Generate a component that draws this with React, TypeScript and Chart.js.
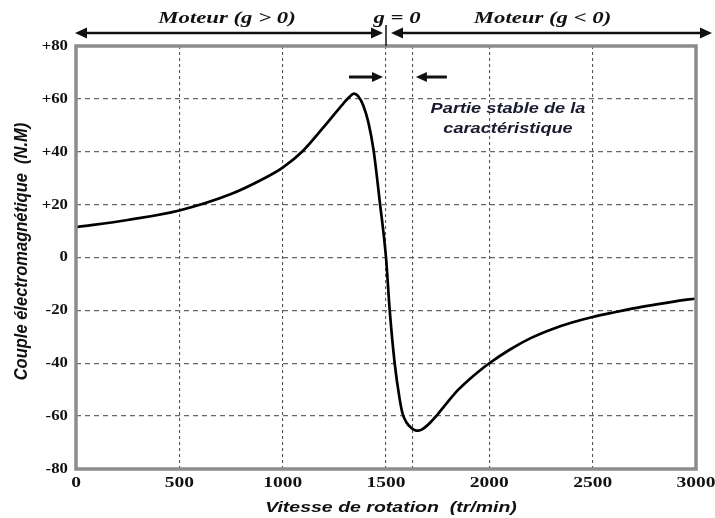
import React, { useEffect, useRef } from "react";
import { Chart, registerables } from "chart.js";

Chart.register(...registerables);

const speeds = [0, 250, 500, 750, 900, 1000, 1100, 1200, 1280, 1320, 1345, 1365, 1390, 1415, 1440, 1470, 1500, 1518, 1542, 1565, 1580, 1600, 1620, 1640, 1657, 1675, 1700, 1725, 1750, 1800, 1850, 1900, 1950, 2000, 2100, 2200, 2300, 2400, 2500, 2600, 2750, 2900, 3000];
const torque = [11.5, 14.2, 17.8, 24, 29.5, 34, 40.5, 49.5, 57, 60.5, 62, 61, 57.5, 51, 40.5, 21, 0, -20, -40, -53, -59, -62.5, -64.3, -65.3, -65.5, -65, -63.5, -61.5, -59.3, -54.5, -50, -46.3, -43, -40, -34.8, -30.5, -27.2, -24.6, -22.5, -20.8, -18.5, -16.6, -15.5];

const xTicks = [0, 500, 1000, 1500, 1630, 2000, 2500, 3000];
const xTickLabels = ["0", "500", "1000", "1500", "", "2000", "2500", "3000"];
const yTicks = [-80, -60, -40, -20, 0, 20, 40, 60, 80];
const yTickLabels = ["-80", "-60", "-40", "-20", "0", "+20", "+40", "+60", "+80"];

const syncSpeed = 1500;
const stableEnd = 1630;
const leftRegion = "Moteur (g > 0)";
const rightRegion = "Moteur (g < 0)";
const zeroLabel = "g = 0";
const stableText = ["Partie stable de la", "caractéristique"];
const xTitle = "Vitesse de rotation  (tr/min)";
const yTitle = "Couple électromagnétique  (N.M)";

const STRETCH = 1.3;

function arrowHead(ctx: CanvasRenderingContext2D, x: number, y: number, dir: number, len: number, half: number) {
  ctx.beginPath();
  ctx.moveTo(x, y);
  ctx.lineTo(x - dir * len, y - half);
  ctx.lineTo(x - dir * len, y + half);
  ctx.closePath();
  ctx.fill();
}

function text(ctx: CanvasRenderingContext2D, s: string, x: number, y: number, font: string, align: CanvasTextAlign, color = "#111", rotate = false, stretch = STRETCH) {
  ctx.save();
  ctx.font = font;
  ctx.fillStyle = color;
  ctx.textAlign = align;
  ctx.textBaseline = "middle";
  ctx.translate(x, y);
  if (rotate) {
    ctx.rotate(-Math.PI / 2);
    ctx.scale(1, stretch);
  } else {
    ctx.scale(stretch, 1);
  }
  ctx.fillText(s, 0, 0);
  ctx.restore();
}

const annotations = {
  id: "annotations",
  beforeDraw(chart: any) {
    const ctx = chart.ctx;
    ctx.save();
    ctx.fillStyle = "#ffffff";
    ctx.fillRect(0, 0, chart.width, chart.height);
    ctx.restore();
  },
  afterDatasetsDraw(chart: any) {
    const ctx: CanvasRenderingContext2D = chart.ctx;
    const { left, right, top, bottom } = chart.chartArea;
    const xs = chart.scales.x;
    const ys = chart.scales.y;
    ctx.save();
    // frame
    ctx.strokeStyle = "#8c8c8c";
    ctx.lineWidth = 3.5;
    ctx.strokeRect(left, top, right - left, bottom - top);

    // tick labels
    xTicks.forEach((v, i) => {
      text(ctx, xTickLabels[i], xs.getPixelForValue(v), bottom + 14, "bold 15px 'Liberation Serif'", "center");
    });
    yTicks.forEach((v, i) => {
      text(ctx, yTickLabels[i], left - 8, ys.getPixelForValue(v), "bold 15px 'Liberation Serif'", "right", "#111", false, 1.12);
    });

    // axis titles
    text(ctx, xTitle, (left + right) / 2 + 5, chart.height - 10, "bold italic 15px 'Liberation Sans'", "center");
    text(ctx, yTitle, 22, (top + bottom) / 2 - 6, "bold italic 16.5px 'Liberation Sans'", "center", "#111", true, 1.15);

    // top double arrows
    const x0 = xs.getPixelForValue(syncSpeed);
    const ay = 33;
    ctx.strokeStyle = "#111";
    ctx.fillStyle = "#111";
    ctx.lineWidth = 2.5;
    const l1 = left - 1, r1 = x0 - 3, l2 = x0 + 5, r2 = chart.width - 3;
    ctx.beginPath();
    ctx.moveTo(l1 + 8, ay); ctx.lineTo(r1 - 8, ay);
    ctx.moveTo(l2 + 8, ay); ctx.lineTo(r2 - 8, ay);
    ctx.stroke();
    arrowHead(ctx, l1, ay, -1, 12, 5.5);
    arrowHead(ctx, r1, ay, 1, 12, 5.5);
    arrowHead(ctx, l2, ay, -1, 12, 5.5);
    arrowHead(ctx, r2, ay, 1, 12, 5.5);
    ctx.lineWidth = 1.5;
    ctx.beginPath();
    ctx.moveTo(x0, 25); ctx.lineTo(x0, top);
    ctx.stroke();

    const topFont = "bold italic 17.5px 'Liberation Serif'";
    text(ctx, leftRegion, (l1 + r1) / 2 - 2, 18, topFont, "center");
    text(ctx, rightRegion, (l2 + r2) / 2 - 9, 18, topFont, "center");
    text(ctx, zeroLabel, x0 + 11, 18, topFont, "center");

    // stable part arrows
    const xe = xs.getPixelForValue(stableEnd);
    const sy = 77;
    ctx.strokeStyle = "#111";
    ctx.fillStyle = "#111";
    ctx.lineWidth = 3;
    ctx.beginPath();
    ctx.moveTo(x0 - 37, sy); ctx.lineTo(x0 - 12, sy);
    ctx.moveTo(xe + 34, sy); ctx.lineTo(xe + 12, sy);
    ctx.stroke();
    arrowHead(ctx, x0 - 3, sy, 1, 11, 5);
    arrowHead(ctx, xe + 3, sy, -1, 11, 5);

    const sFont = "bold italic 14px 'Liberation Sans'";
    const tx = (xs.getPixelForValue(2000) + xs.getPixelForValue(2500)) / 2 - 33;
    text(ctx, stableText[0], tx, ys.getPixelForValue(56), sFont, "center", "#1a1a30");
    text(ctx, stableText[1], tx, ys.getPixelForValue(48.5), sFont, "center", "#1a1a30");
    ctx.restore();
  },
};

export default function App() {
  const ref = useRef<HTMLCanvasElement>(null);
  useEffect(() => {
    if (!ref.current) return;
    const chart = new Chart(ref.current, {
      type: "line",
      data: {
        datasets: [
          {
            data: speeds.map((s, i) => ({ x: s, y: torque[i] })),
            borderColor: "#000",
            borderWidth: 2.7,
            pointRadius: 0,
            cubicInterpolationMode: "monotone",
            fill: false,
          },
        ],
      },
      options: {
        animation: false,
        responsive: false,
        devicePixelRatio: 1,
        layout: { padding: { top: 46, right: 19, left: 0, bottom: 0 } },
        plugins: { legend: { display: false }, tooltip: { enabled: false } },
        scales: {
          x: {
            type: "linear",
            min: 0,
            max: 3000,
            afterFit: (s: any) => { s.height = 49; },
            afterBuildTicks: (s: any) => { s.ticks = xTicks.map((v) => ({ value: v })); },
            ticks: { display: false },
            grid: { color: "#555", lineWidth: 1.1, drawTicks: false },
            border: { display: false, dash: [3, 3] },
          },
          y: {
            type: "linear",
            min: -80,
            max: 80,
            afterFit: (s: any) => { s.width = 76; },
            afterBuildTicks: (s: any) => { s.ticks = yTicks.map((v) => ({ value: v })); },
            ticks: { display: false },
            grid: { color: "#666", lineWidth: 1.3, drawTicks: false },
            border: { display: false, dash: [5, 4] },
          },
        },
      },
      plugins: [annotations],
    } as any);
    return () => chart.destroy();
  }, []);
  return (
    <div style={{ position: "fixed", left: 0, top: 0, width: 715, height: 518, background: "#fff" }}>
      <canvas ref={ref} width={715} height={518} style={{ display: "block" }} />
    </div>
  );
}
